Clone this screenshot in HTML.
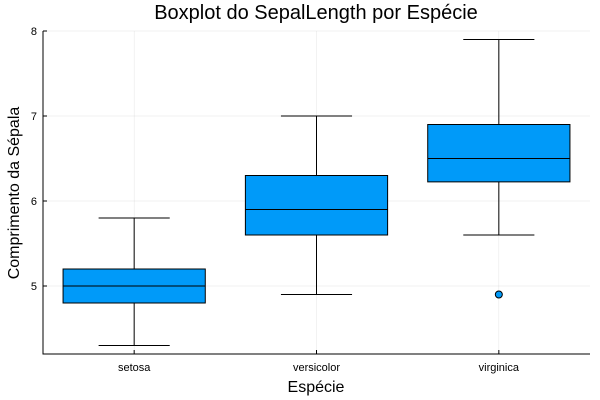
<!DOCTYPE html>
<html><head><meta charset="utf-8"><style>
body{margin:0;background:#fff}
svg{display:block;font-family:"Liberation Sans","DejaVu Sans",sans-serif}
</style></head><body>
<svg id="chart" width="600" height="400">
<rect width="600" height="400" fill="#fff"/>
<g id="grid"></g>
<g id="boxes"></g>
<g id="axes"></g>
<text x="316" y="19" font-size="20" text-anchor="middle" fill="#000">Boxplot do SepalLength por Espécie</text>
<text x="316" y="392" font-size="16" text-anchor="middle" fill="#000">Espécie</text>
<text transform="translate(19,193) rotate(-90)" font-size="16" text-anchor="middle" fill="#000">Comprimento da Sépala</text>
</svg>
<script>
const categories=["setosa","versicolor","virginica"];
const whiskerLow=[4.3,4.9,5.6];
const q1=[4.8,5.6,6.225];
const medians=[5.0,5.9,6.5];
const q3=[5.2,6.3,6.9];
const whiskerHigh=[5.8,7.0,7.9];
const outlierCat=[2];
const outlierVal=[4.9];
const yTicks=[5,6,7,8];

const NS="http://www.w3.org/2000/svg";
const L=43,R=590,T=31,B=354,ymin=4.2,ymax=8.0;
const y=v=>B-(v-ymin)/(ymax-ymin)*(B-T);
const step=(R-L)/categories.length;
const x=i=>L+step*(i+0.5);
const hw=step*0.39;
function mk(tag,attrs,parent){const e=document.createElementNS(NS,tag);for(const k in attrs)e.setAttribute(k,attrs[k]);parent.appendChild(e);return e;}
const grid=document.getElementById('grid'),boxes=document.getElementById('boxes'),axes=document.getElementById('axes');
yTicks.forEach(t=>{
  const g=mk('line',{x1:L,x2:R,y1:y(t),y2:y(t),stroke:'#000','stroke-opacity':0.1,'stroke-width':0.5},grid);
  
  
  const lb=mk('text',{x:L-6,y:y(t)+4,'font-size':11,'text-anchor':'end',fill:'#000'},axes);
  lb.textContent=t;
  
  
  const tk=mk('line',{x1:L,x2:L+4,y1:y(t),y2:y(t),stroke:'#000','stroke-width':1},axes);
  
  
});
categories.forEach((c,i)=>{
  const g=mk('line',{x1:x(i),x2:x(i),y1:T,y2:B,stroke:'#000','stroke-opacity':0.1,'stroke-width':0.5},grid);
  
  
  const lb=mk('text',{x:x(i),y:B+17,'font-size':11,'text-anchor':'middle',fill:'#000'},axes);
  lb.textContent=c;
  
  
  const tk=mk('line',{x1:x(i),x2:x(i),y1:B,y2:B-4,stroke:'#000','stroke-width':1},axes);
  
  
  const cx=x(i);
  const wl=mk('path',{d:`M${cx},${y(q1[i])}V${y(whiskerLow[i])}M${cx-hw/2},${y(whiskerLow[i])}H${cx+hw/2}M${cx},${y(q3[i])}V${y(whiskerHigh[i])}M${cx-hw/2},${y(whiskerHigh[i])}H${cx+hw/2}`,stroke:'#000','stroke-width':1,fill:'none'},boxes);
  
  
  const b=mk('rect',{x:cx-hw,y:y(q3[i]),width:2*hw,height:y(q1[i])-y(q3[i]),fill:'#009af9',stroke:'#000','stroke-width':1},boxes);
  
  
  const m=mk('line',{x1:cx-hw,x2:cx+hw,y1:y(medians[i]),y2:y(medians[i]),stroke:'#000','stroke-width':1},boxes);
  
  
});
outlierCat.forEach((ci,k)=>{
  const o=mk('circle',{cx:x(ci),cy:y(outlierVal[k]),r:3.5,fill:'#009af9',stroke:'#000','stroke-width':1},boxes);
  
  
});
const ax=mk('path',{d:`M${L},${T}V${B}H${R}`,stroke:'#000','stroke-width':1,fill:'none'},axes);


</script>
</body></html>
